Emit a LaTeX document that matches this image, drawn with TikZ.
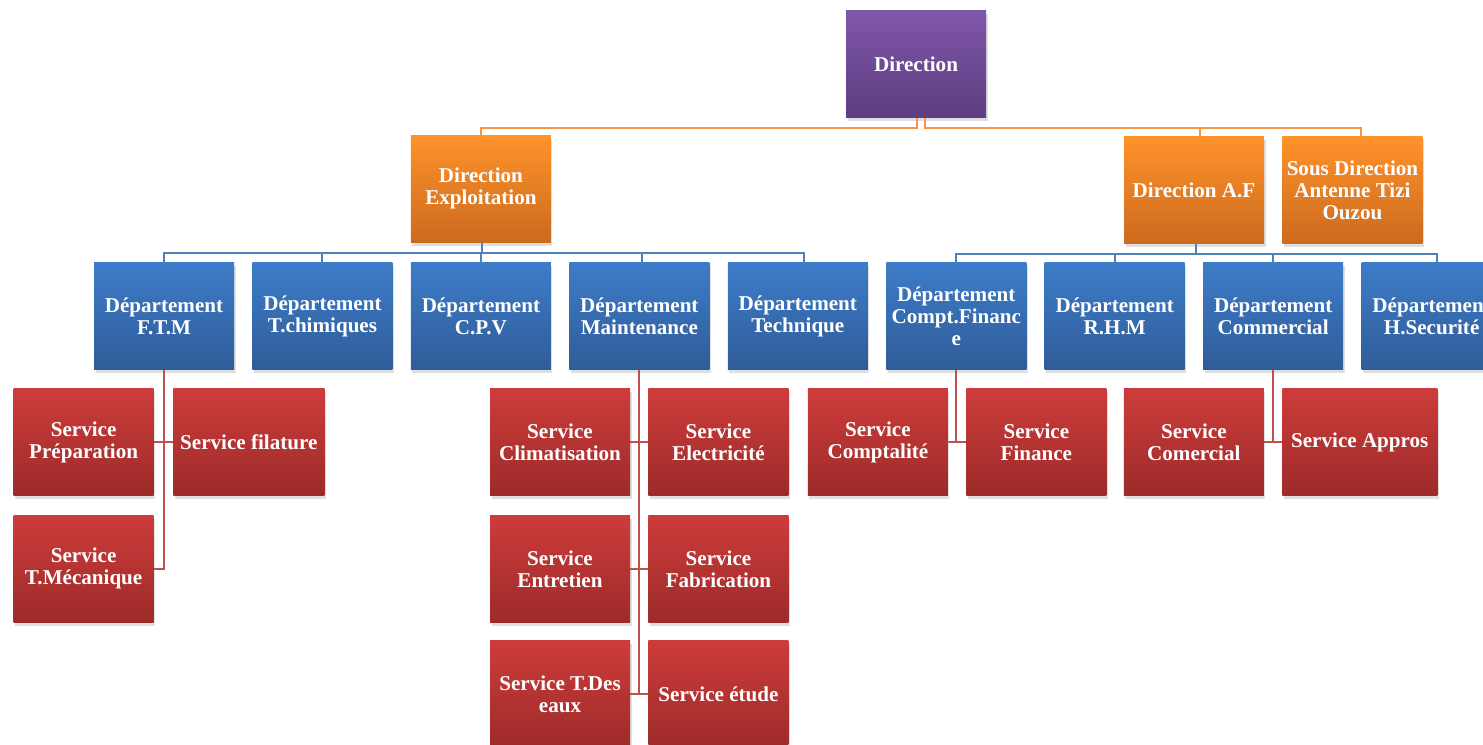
\documentclass[tikz,border=0pt]{standalone}
\usepackage{fontspec}
\setmainfont{Liberation Serif}
\usetikzlibrary{positioning,shadows,calc}

\definecolor{purpTop}{HTML}{7F57A9}
\definecolor{purpBot}{HTML}{5D3E80}
\definecolor{orgTop}{HTML}{FF922A}
\definecolor{orgBot}{HTML}{CB6A1F}
\definecolor{bluTop}{HTML}{3D7CC9}
\definecolor{bluBot}{HTML}{2F5C98}
\definecolor{redTop}{HTML}{CD3C3A}
\definecolor{redBot}{HTML}{9C2B2A}
\definecolor{orgLine}{HTML}{F79646}
\definecolor{bluLine}{HTML}{4F81BD}
\definecolor{redLine}{HTML}{C0504D}

\begin{document}
\begin{tikzpicture}[
		node distance=0.355cm,
		every node/.style={
			font=\fontsize{12}{12.5}\selectfont\bfseries,
			align=center,
			text=white
		},
		box/.style={
			minimum width=2.8cm,
			minimum height=2.14cm,
			inner sep=1pt,
			drop shadow={shadow xshift=0.03cm,shadow yshift=-0.07cm,opacity=0.25}
		},
		dirbox/.style={box,top color=purpTop,bottom color=purpBot},
		subdir/.style={box,top color=orgTop,bottom color=orgBot},
		dept/.style={box,top color=bluTop,bottom color=bluBot},
		serv/.style={box,top color=redTop,bottom color=redBot},
		orgline/.style={draw=orgLine,line width=1.1pt},
		bluline/.style={draw=bluLine,line width=1.1pt},
		redline/.style={draw=redLine,line width=1.1pt}
		]
		
		\clip (0,0) rectangle (29.66,-14.9);
		
		%--------------------------------------------------
		% Departements
		%--------------------------------------------------
		
		\node[dept] (dftm) at (3.28,-6.33) {Département\\F.T.M};
		\node[dept] (dchim) [right=of dftm] {Département\\T.chimiques};
		\node[dept] (dcpv) [right=of dchim] {Département\\C.P.V};
		\node[dept] (dmaint) [right=of dcpv] {Département\\Maintenance};
		\node[dept] (dtech) [right=of dmaint] {Département\\Technique};
		\node[dept] (dcompt) [right=of dtech] {Département\\Compt.Financ\\e};
		\node[dept] (drhm) [right=of dcompt] {Département\\R.H.M};
		\node[dept] (dcomm) [right=of drhm] {Département\\Commercial};
		\node[dept] (dsecu) [right=of dcomm] {Département\\H.Securité};
		
		%--------------------------------------------------
		% Direction
		%--------------------------------------------------
		
		\node[dirbox] (dir) at (18.32,-1.29) {Direction};
		\node[subdir] (dexp) [above=0.4cm of dcpv] {Direction\\Exploitation};
		\node[subdir] (daf) at (23.88,-3.80) {Direction A.F};
		\node[subdir] (sous) [right=of daf] {Sous Direction\\Antenne Tizi\\Ouzou};
		
		%--------------------------------------------------
		% Services
		%--------------------------------------------------
		
		\node[serv,anchor=north east] (prep) at ([xshift=-0.2cm,yshift=-0.36cm]dftm.south) {Service\\Préparation};
		\node[serv,minimum width=3.02cm] (filat) [right=0.38cm of prep] {Service filature};
		\node[serv] (tmeca) [below=0.38cm of prep] {Service\\T.Mécanique};
		
		\node[serv,anchor=north east] (clim) at ([xshift=-0.18cm,yshift=-0.36cm]dmaint.south) {Service\\Climatisation};
		\node[serv] (elec) [right=of clim] {Service\\Electricité};
		\node[serv] (entr) [below=0.38cm of clim] {Service\\Entretien};
		\node[serv] (fabr) [below=0.38cm of elec] {Service\\Fabrication};
		\node[serv] (tdes) [below=of entr] {Service T.Des\\eaux};
		\node[serv] (etude) [below=of fabr] {Service étude};
		
		\node[serv,anchor=north east] (compta) at ([xshift=-0.16cm,yshift=-0.36cm]dcompt.south) {Service\\Comptalité};
		\node[serv] (fin) [right=of compta] {Service\\Finance};
		
		\node[serv,anchor=north east] (comerc) at ([xshift=-0.18cm,yshift=-0.36cm]dcomm.south) {Service\\Comercial};
		\node[serv,minimum width=3.1cm] (appros) [right=of comerc] {Service Appros};
		
		%--------------------------------------------------
		% Connectors
		%--------------------------------------------------
		
		\draw[orgline] ([xshift=0.02cm]dir.south) -- ++(0,-0.2) -| (dexp.north);
		\draw[orgline] ([xshift=0.18cm]dir.south) -- ++(0,-0.2) -| ([xshift=0.12cm]daf.north);
		\draw[orgline] ([xshift=0.18cm]dir.south) -- ++(0,-0.2) -| ([xshift=0.18cm]sous.north);
		
		\foreach \d/\s in {dftm/0,dchim/0,dcpv/0,dmaint/0.06,dtech/0.12}
		{
			\draw[bluline] ([xshift=0.02cm]dexp.south) -- ++(0,-0.2) -| ([xshift=\s cm]\d.north);
		}
		\foreach \d/\s in {dcompt/0,drhm/0,dcomm/0,dsecu/0.1}
		{
			\draw[bluline] ([xshift=0.04cm]daf.south) -- ++(0,-0.2) -| ([xshift=\s cm]\d.north);
		}
		
		\draw[redline] (dftm.south) |- (tmeca.east);
		\draw[redline] (prep.east) -- (filat.west);
		
		\draw[redline] (dmaint.south) |- (tdes.east);
		\draw[redline] (clim.east) -- (elec.west);
		\draw[redline] (entr.east) -- (fabr.west);
		\draw[redline] (tdes.east) -- (etude.west);
		
		\draw[redline] (dcompt.south) |- (compta.east) -- (fin.west);
		\draw[redline] (dcomm.south) |- (comerc.east) -- (appros.west);
		
	\end{tikzpicture}
\end{document}
